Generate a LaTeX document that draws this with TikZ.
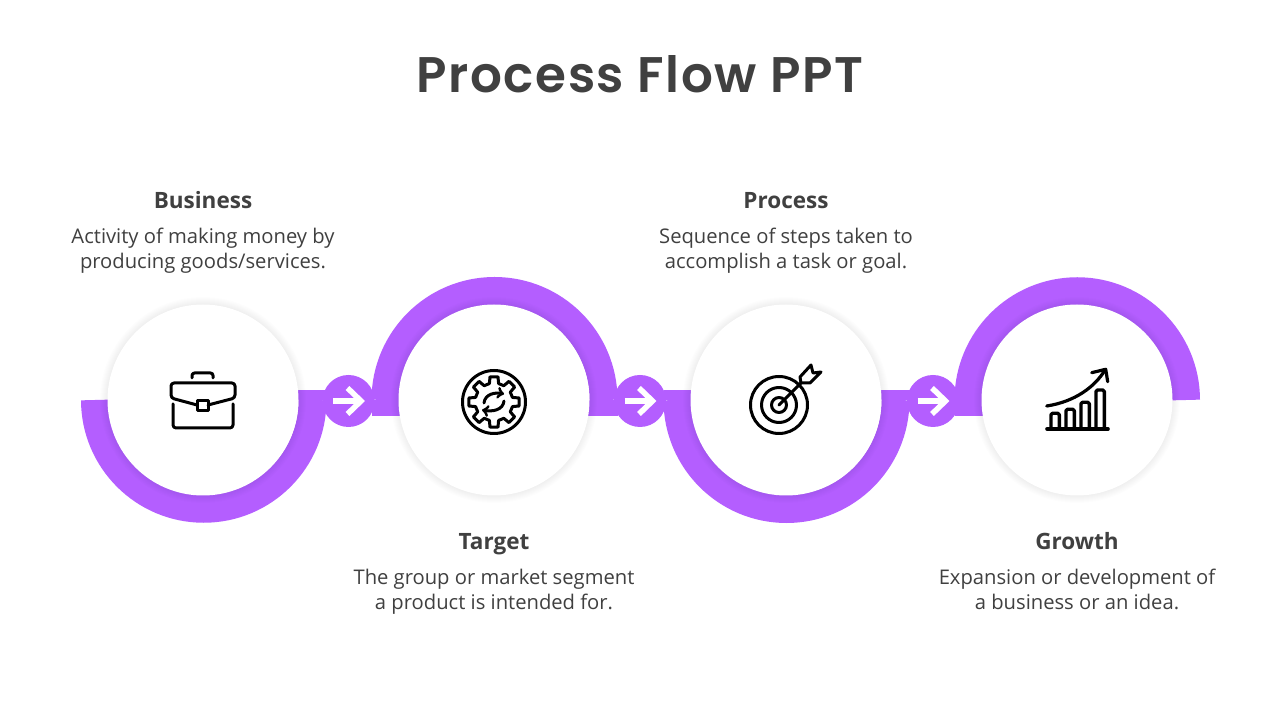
\documentclass[tikz,border=0pt]{standalone}
\usepackage{fontspec}
\setmainfont{Open Sans}
\newfontfamily\titlefont[BoldFont={Poppins SemiBold},LetterSpace=3.2]{Poppins}
\definecolor{flowpurple}{HTML}{B45EFF}
\definecolor{flowtext}{HTML}{404040}
\tikzset{
    ringarc/.style={draw=flowpurple,line width=28pt},
    band/.style={fill=flowpurple},
    hub/.style={circle,fill=flowpurple,minimum size=52pt,inner sep=0pt},
    stepcircle/.style={circle,fill=white,minimum size=191pt,inner sep=0pt},
    heading/.style={text=flowtext,text height=16pt,text depth=5pt,font=\fontsize{22.5}{26}\selectfont\bfseries},
    blurb/.style={text=flowtext,align=center,font=\fontsize{20.2}{25}\selectfont},
    iconline/.style={draw=black,line width=3pt,line cap=round,line join=round},
    hubarrow/.style={draw=white,line width=5.5pt},
}

\begin{document}
\begin{tikzpicture}[x=1pt,y=1pt]
    \useasboundingbox[fill=white] (0,0) rectangle (1280,720);
    \node[text=flowtext,font=\fontsize{50}{55}\selectfont\titlefont\bfseries] (title) at (640,646) {Process Flow PPT};

    % rings, below and above the line in turn
    \draw[ringarc] (95,320) arc[start angle=180,end angle=360,radius=108.75];
    \draw[ringarc] (385.5,320) arc[start angle=180,end angle=0,radius=109];
    \draw[ringarc] (677.5,320) arc[start angle=180,end angle=360,radius=109];
    \draw[ringarc] (968.5,320) arc[start angle=180,end angle=0,radius=108.75];

    % short bands between ring ends and hubs
    \fill[band] (290,320) rectangle (326.5,330);
    \fill[band] (371.5,320) rectangle (410,303.5);
    \fill[band] (580,320) rectangle (617.5,303.5);
    \fill[band] (663.5,320) rectangle (700,330);
    \fill[band] (875,320) rectangle (909.5,330);
    \fill[band] (954.5,320) rectangle (990,303.5);

    \node[hub] (hubA) at (348.5,319) {};
    \node[hub] (hubB) at (640,319) {};
    \node[hub] (hubC) at (933,319) {};
    \foreach \h in {hubA,hubB,hubC} {
        \draw[hubarrow] ([xshift=-15.5pt]\h.center) -- ([xshift=13pt]\h.center);
        \draw[hubarrow] ([xshift=-1pt,yshift=13pt]\h.center) -- ([xshift=12.5pt]\h.center) -- ([xshift=-1pt,yshift=-13pt]\h.center);
    }

    % soft shadow, then the white discs
    \foreach \c/\n in {203/business,494/target,786/process,1077/growth} {
        \foreach \r in {96,97,...,103} {
            \fill[black,opacity=0.008] (\c,320) circle (\r);
        }
        \node[stepcircle] (\n) at (\c,320) {};
    }

    % briefcase
    \begin{scope}[shift={(business.center)}]
        \draw[iconline,rounded corners=2.5pt] (-11,22) -- (-11,27) -- (10,27) -- (10,22);
        \draw[iconline,rounded corners=3pt] (-6,-5) -- (-32,2) -- (-32,17) -- (32,17) -- (32,2) -- (5,-5);
        \draw[iconline] (-5.5,-1) rectangle (5,-11);
        \draw[iconline,rounded corners=3pt] (-30,-4) -- (-30,-28) -- (30,-28) -- (30,-4);
    \end{scope}

    % gear
    \begin{scope}[shift={(target.center)}]
        \begin{scope}[shift={(0,-2)}]
            \draw[iconline] (0,0) circle (31.5);
            \draw[iconline] (-9:25.5) \foreach \a in {0,45,...,315} {-- (\a-9:25.5) -- (\a+9:25.5) -- (\a+14:19) -- (\a+31:19)} -- cycle;
            \draw[iconline,->] (-10,-1) .. controls (-9,8) and (1,10) .. (10,8);
            \draw[iconline,->] (10,1) .. controls (9,-8) and (-1,-10) .. (-12,-8);
        \end{scope}
    \end{scope}

    % target
    \begin{scope}[shift={(process.center)}]
        \begin{scope}[shift={(-7,-5)}]
            \draw[iconline] (0,0) circle (28.5);
            \draw[iconline] (0,0) circle (17.5);
            \draw[iconline] (0,0) circle (7.5);
            \draw[iconline] (0,0) -- (22,22);
            \draw[iconline] (21,28) -- (32,40) -- (34,32) -- (42,33) -- (31,22) -- (22,22) -- cycle;
        \end{scope}
    \end{scope}

    % growth chart
    \begin{scope}[shift={(growth.center)}]
        \draw[iconline,line width=3.6pt] (-30,-29) -- (31,-29);
        \foreach \xa/\xb/\t in {-26/-17.7/-13.3,-11/-2.7/-9.3,4/12.3/-2.3,19/27.3/10} {
            \draw[iconline,line width=3.4pt,rounded corners=1.5pt] (\xa,-29) -- (\xa,\t) -- (\xb,\t) -- (\xb,-29);
        }
        \draw[iconline,line width=3.2pt] (-30.3,-6) .. controls (-2,-1.7) and (18,13.3) .. (28,30);
        \draw[iconline,line width=3.2pt] (14.7,27.3) -- (28.7,30.7) -- (30.7,18.3);
    \end{scope}

    % labels
    \node[heading] (businessHead) at (203,517) {Business};
    \node[blurb] (businessText) at (203,469) {Activity of making money by\\producing goods/services.};
    \node[heading] (targetHead) at (494,176) {Target};
    \node[blurb] (targetText) at (494,128) {The group or market segment\\a product is intended for.};
    \node[heading] (processHead) at (786,517) {Process};
    \node[blurb] (processText) at (786,469.5) {Sequence of steps taken to\\accomplish a task or goal.};
    \node[heading] (growthHead) at (1077,176) {Growth};
    \node[blurb] (growthText) at (1077,131) {Expansion or development of\\a business or an idea.};
\end{tikzpicture}
\end{document}
